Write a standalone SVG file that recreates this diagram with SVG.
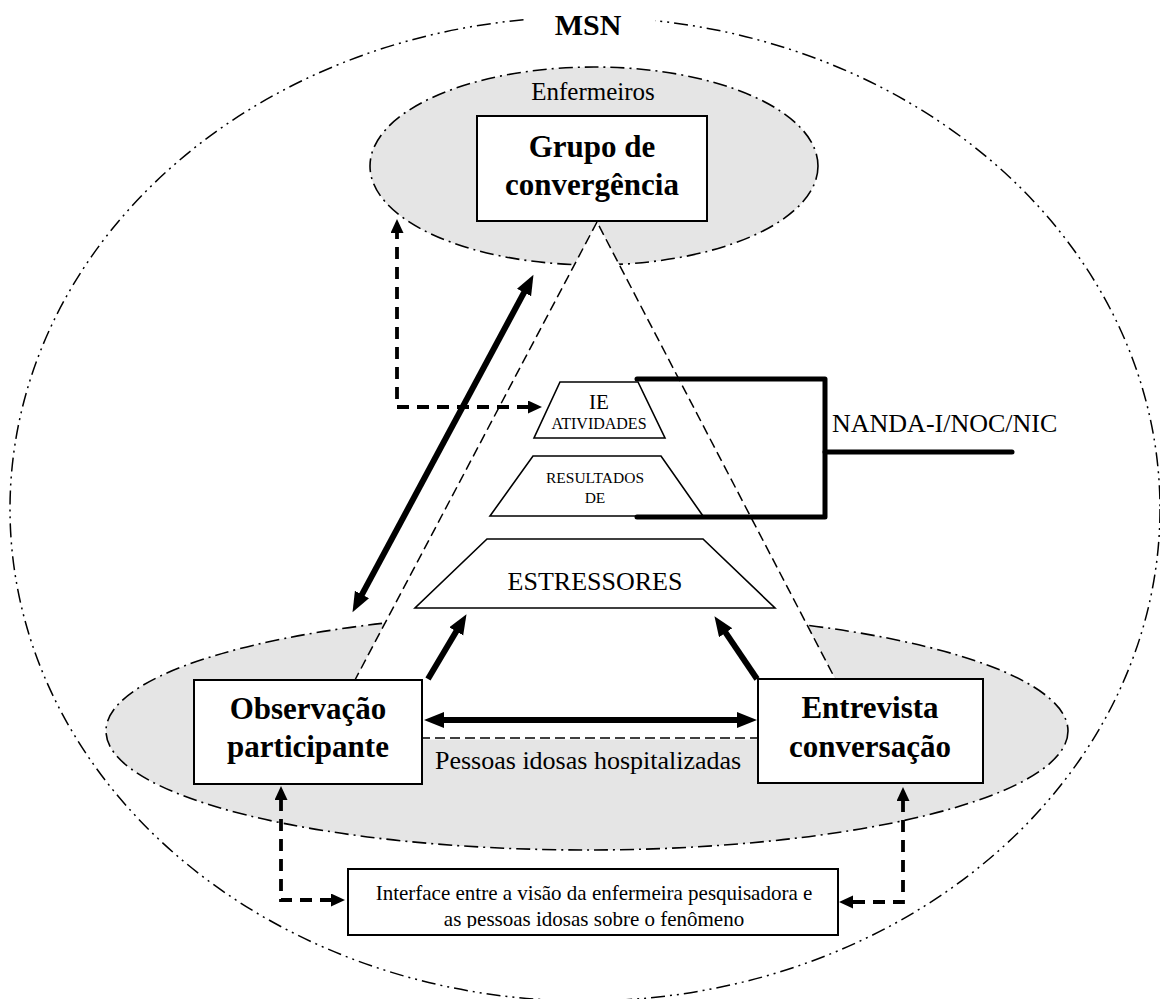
<svg xmlns="http://www.w3.org/2000/svg" width="1160" height="999" viewBox="0 0 1160 999">
  <style>
    text { font-family: "Liberation Serif", "Times New Roman", serif; fill: #000; }
    .bold { font-weight: bold; }
    .mid { text-anchor: middle; }
    .outer { fill: none; stroke: #000; stroke-width: 1.5; stroke-dasharray: 14 5 2 5 2 5; }
    .zone { fill: #e5e5e5; stroke: #000; stroke-width: 1.6; stroke-dasharray: 14 5 2 5; }
    .tri { fill: #fff; stroke: #000; stroke-width: 1.5; stroke-dasharray: 10 5; }
    .box { fill: #fff; stroke: #000; stroke-width: 2; }
    .trap { fill: #fff; stroke: #000; stroke-width: 1.6; }
    .bracket { fill: none; stroke: #000; stroke-width: 5; stroke-linejoin: round; stroke-linecap: round; }
    .thick { fill: none; stroke: #000; stroke-width: 6; }
    .dash { fill: none; stroke: #000; stroke-width: 3.8; stroke-dasharray: 12 8; }
  </style>
  <defs>
    <marker id="headBig" markerUnits="userSpaceOnUse" markerWidth="22" markerHeight="18" refX="1" refY="8" orient="auto-start-reverse">
      <path d="M0,0 L20,8 L0,16 z" fill="#000"/>
    </marker>
    <marker id="headSmall" markerUnits="userSpaceOnUse" markerWidth="16" markerHeight="15" refX="1" refY="6.5" orient="auto-start-reverse">
      <path d="M0,0 L14,6.5 L0,13 z" fill="#000"/>
    </marker>
    <clipPath id="noteClip">
      <rect x="348" y="869" width="490" height="59"/>
    </clipPath>
  </defs>

  <!-- outer boundary: MSN -->
  <g id="msn">
    <ellipse class="outer" cx="585" cy="509" rx="575" ry="492"/>
    <rect x="525" y="4" width="130" height="38" fill="#fff"/>
    <text class="bold mid" x="588" y="35" font-size="30">MSN</text>
  </g>

  <!-- shaded zones -->
  <g id="zone-enfermeiros">
    <ellipse class="zone" cx="594" cy="166" rx="224" ry="99"/>
    <text class="mid" x="593" y="100" font-size="25" fill="#111">Enfermeiros</text>
  </g>
  <g id="zone-idosos">
    <ellipse class="zone" cx="587" cy="731" rx="481" ry="119"/>
  </g>

  <!-- dashed triangle -->
  <g id="triangle">
    <polygon class="tri" points="597,222 300,784 890,784"/>
    <line x1="300" y1="738" x2="890" y2="738" stroke="#000" stroke-width="1.5" stroke-dasharray="10 5"/>
    <rect x="300" y="739.5" width="590" height="46" fill="#e5e5e5"/>
  </g>

  <!-- pyramid levels -->
  <g id="level-ie">
    <polygon class="trap" points="560,382 638,382 665,438 534,438"/>
    <text class="mid" x="599" y="409" font-size="21">IE</text>
    <text class="mid" x="599" y="429" font-size="16">ATIVIDADES</text>
  </g>
  <g id="level-resultados">
    <polygon class="trap" points="533,456 661,456 703,516 490,516"/>
    <text class="mid" x="595" y="483" font-size="15.5">RESULTADOS</text>
    <text class="mid" x="595" y="503" font-size="15.5">DE</text>
  </g>
  <g id="level-estressores">
    <polygon class="trap" points="487,539 703,539 775,608 415,608"/>
    <text class="mid" x="595" y="590" font-size="26">ESTRESSORES</text>
  </g>

  <!-- NANDA-I/NOC/NIC bracket -->
  <g id="nanda">
    <path class="bracket" d="M637,379 H825 V517 H637"/>
    <path class="bracket" d="M825,452 H1012"/>
    <text x="832" y="432" font-size="26">NANDA-I/NOC/NIC</text>
  </g>

  <!-- method boxes -->
  <g id="grupo">
    <rect class="box" x="477" y="116" width="230" height="105"/>
    <text class="bold mid" x="592" y="157" font-size="31">Grupo de</text>
    <text class="bold mid" x="592" y="195" font-size="31">convergência</text>
  </g>
  <g id="observacao">
    <rect class="box" x="194" y="680" width="228" height="104"/>
    <text class="bold mid" x="308" y="719" font-size="31">Observação</text>
    <text class="bold mid" x="308" y="757" font-size="31">participante</text>
  </g>
  <g id="entrevista">
    <rect class="box" x="758" y="679" width="225" height="104"/>
    <text class="bold mid" x="870" y="718" font-size="31">Entrevista</text>
    <text class="bold mid" x="870" y="757" font-size="31">conversação</text>
  </g>
  <g id="idosos-label">
    <text x="435" y="769" font-size="26">Pessoas idosas hospitalizadas</text>
  </g>
  <g id="interface">
    <rect class="box" x="348" y="869" width="490" height="66" stroke-width="1.8"/>
    <g clip-path="url(#noteClip)">
      <text class="mid" x="594" y="900" font-size="21">Interface entre a visão da enfermeira pesquisadora e</text>
      <text class="mid" x="594" y="926" font-size="21">as pessoas idosas sobre o fenômeno</text>
    </g>
  </g>

  <!-- connectors -->
  <g id="connectors">
    <path class="thick" d="M361.5,595.4 L524.5,291.6" marker-start="url(#headBig)" marker-end="url(#headBig)"/>
    <path class="thick" d="M428,679 L456.8,630.5" marker-end="url(#headBig)"/>
    <path class="thick" d="M757,679 L725.1,631.9" marker-end="url(#headBig)"/>
    <path class="thick" d="M443,720 L738,720" marker-start="url(#headBig)" marker-end="url(#headBig)"/>
    <path class="dash" d="M529,407 H397 V232" marker-start="url(#headSmall)" marker-end="url(#headSmall)"/>
    <path class="dash" d="M281,799 V900 H332" marker-start="url(#headSmall)" marker-end="url(#headSmall)"/>
    <path class="dash" d="M903,800 V902 H852" marker-start="url(#headSmall)" marker-end="url(#headSmall)"/>
  </g>
</svg>
